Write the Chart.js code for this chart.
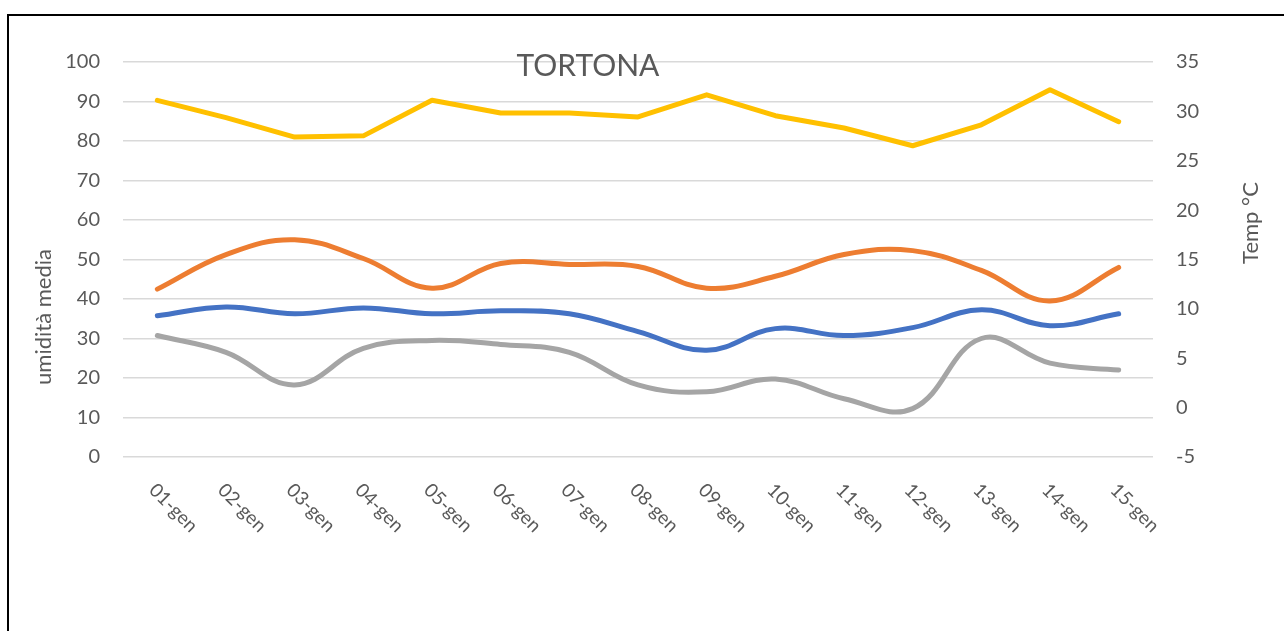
<!DOCTYPE html>
<html>
<head>
<meta charset="utf-8">
<script src="https://cdn.jsdelivr.net/npm/chart.js@4/dist/chart.umd.min.js"></script>
<style>
  html, body { margin: 0; padding: 0; background: #fff; }
  #wrap { position: relative; width: 1284px; height: 631px; }
  #frame { position: absolute; left: 7px; top: 14px; right: 0; bottom: 0;
           border-left: 2.5px solid #000; border-top: 2.5px solid #000; pointer-events: none; }
</style>
</head>
<body>
<div id="wrap">
  <canvas id="chart" width="1284" height="631"></canvas>
  <div id="frame"></div>
</div>
<script>
// data
const days = ['01-gen', '02-gen', '03-gen', '04-gen', '05-gen', '06-gen', '07-gen', '08-gen',
              '09-gen', '10-gen', '11-gen', '12-gen', '13-gen', '14-gen', '15-gen'];

// humidity (left axis)
const umidita = [90.3, 85.9, 81.0, 81.3, 90.3, 87.1, 87.1, 86.1, 91.7, 86.4, 83.3, 78.8, 84.1, 93.0, 84.9];

// temperatures (right axis)
const tempOrange = [12.0, 15.5, 17.0, 15.1, 12.1, 14.6, 14.5, 14.3, 12.1, 13.3, 15.5, 15.9, 13.9, 10.8, 14.2];
const tempBlue = [9.3, 10.2, 9.5, 10.1, 9.5, 9.8, 9.5, 7.7, 5.8, 8.0, 7.3, 8.1, 9.9, 8.3, 9.5];
const tempGray = [7.3, 5.6, 2.3, 6.0, 6.8, 6.4, 5.6, 2.3, 1.6, 2.9, 0.9, -0.1, 7.0, 4.5, 3.8];

const titleText = 'TORTONA';
const leftTitle = 'umidità media';
const rightTitle = 'Temp °C';

const FONT = 'Lato, "Noto Sans", sans-serif';
const TEXT = '#595959';

// draws title, axis titles and the slanted day labels
const extraText = {
  id: 'extraText',
  afterDraw(chart) {
    const ctx = chart.ctx;
    const xs = chart.scales.x;
    ctx.save();
    ctx.fillStyle = TEXT;

    ctx.font = '30px ' + FONT;
    ctx.textAlign = 'center';
    ctx.textBaseline = 'middle';
    ctx.fillText(titleText, 588, 66);

    ctx.font = '22px ' + FONT;
    ctx.save();
    ctx.translate(44, 317);
    ctx.rotate(-Math.PI / 2);
    ctx.fillText(leftTitle, 0, 0);
    ctx.restore();

    ctx.save();
    ctx.translate(1251, 223);
    ctx.rotate(-Math.PI / 2);
    ctx.fillText(rightTitle, 0, 0);
    ctx.restore();

    ctx.font = '19px ' + FONT;
    ctx.textAlign = 'left';
    days.forEach((d, i) => {
      const x = xs.getPixelForValue(i);
      ctx.save();
      ctx.translate(x - 5, 487);
      ctx.rotate(Math.PI / 4);
      ctx.fillText(d, 0, 0);
      ctx.restore();
    });
    ctx.restore();
  }
};

const lineStyle = (color, tension, axis) => ({
  borderColor: color,
  backgroundColor: color,
  borderWidth: 5,
  pointRadius: 0,
  tension: tension,
  borderCapStyle: 'round',
  borderJoinStyle: 'round',
  yAxisID: axis,
  fill: false,
});

new Chart(document.getElementById('chart'), {
  type: 'line',
  data: {
    labels: days,
    datasets: [
      { label: 'umidità', data: umidita, ...lineStyle('#FFC000', 0, 'y') },
      { label: 'T1', data: tempOrange, ...lineStyle('#ED7D31', 0.4, 'y2') },
      { label: 'T2', data: tempBlue, ...lineStyle('#4472C4', 0.4, 'y2') },
      { label: 'T3', data: tempGray, ...lineStyle('#A5A5A5', 0.4, 'y2') },
    ],
  },
  options: {
    responsive: false,
    animation: false,
    layout: { padding: { top: 62, bottom: 174, left: 0, right: 0 } },
    plugins: {
      legend: { display: false },
      tooltip: { enabled: false },
    },
    scales: {
      x: {
        offset: true,
        grid: { display: false },
        border: { display: false },
        ticks: { display: false },
        afterFit(scale) { scale.height = 0; },
      },
      y: {
        position: 'left',
        min: 0,
        max: 100,
        ticks: { stepSize: 10, color: TEXT, font: { size: 20, family: FONT }, padding: 23 },
        grid: { color: '#D9D9D9', lineWidth: 1.5, drawTicks: false },
        border: { display: false },
        afterFit(scale) { scale.width = 123; },
      },
      y2: {
        position: 'right',
        min: -5,
        max: 35,
        ticks: { stepSize: 5, color: TEXT, font: { size: 20, family: FONT }, padding: 23 },
        grid: { drawOnChartArea: false, drawTicks: false },
        border: { display: false },
        afterFit(scale) { scale.width = 131; },
      },
    },
  },
  plugins: [extraText],
});
</script>
</body>
</html>
